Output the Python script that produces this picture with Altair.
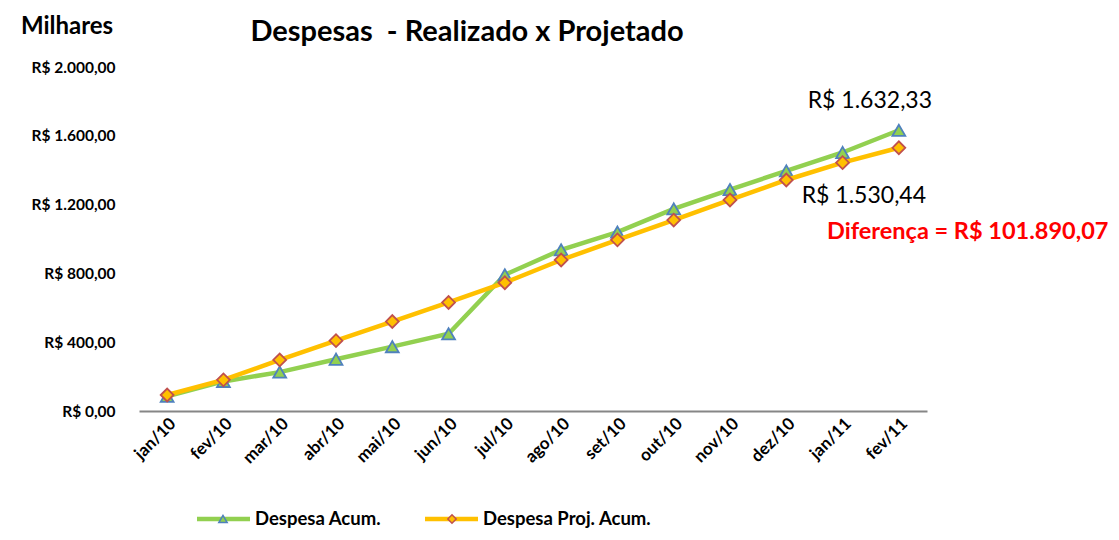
import altair as alt
import pandas as pd

months = ["jan/10", "fev/10", "mar/10", "abr/10", "mai/10", "jun/10", "jul/10",
          "ago/10", "set/10", "out/10", "nov/10", "dez/10", "jan/11", "fev/11"]
realizado = [85, 172, 226, 301, 374, 449, 792, 937, 1040, 1175, 1287, 1396, 1503, 1632.33]
projetado = [93, 181, 297, 409, 520, 631, 746, 878, 995, 1110, 1227, 1343, 1444, 1530.44]
series_names = ["Despesa Acum.", "Despesa Proj. Acum."]
end_labels = ["R$ 1.632,33", "R$ 1.530,44"]
y_ticks = [0, 400, 800, 1200, 1600, 2000]
y_tick_labels = ["R$ 0,00", "R$ 400,00", "R$ 800,00", "R$ 1.200,00", "R$ 1.600,00", "R$ 2.000,00"]
title_text = "Despesas\u00a0 - Realizado x Projetado"
unit_text = "Milhares"
diff_text = "Diferença = R$ 101.890,07"

line_colors = ["#92D050", "#FFC000"]
marker_fill = ["#92D050", "#FFC000"]
marker_stroke = ["#4F81BD", "#C0504D"]
shapes = ["triangle-up", "diamond"]

FONT = "Lato"

rows = []
for m, v in zip(months, realizado):
    rows.append({"mes": m, "valor": v, "serie": series_names[0]})
for m, v in zip(months, projetado):
    rows.append({"mes": m, "valor": v, "serie": series_names[1]})
df = pd.DataFrame(rows)

label_expr = ""
for t, l in zip(y_ticks, y_tick_labels):
    label_expr += f"datum.value == {t} ? '{l}' : "
label_expr += "''"

x_enc = alt.X("mes:N", sort=months,
              scale=alt.Scale(type="point", padding=0.5, domain=months),
              axis=alt.Axis(title=None, labelAngle=315, labelAlign="right",
                            labelBaseline="top", labelFontSize=17,
                            labelFontWeight="bold", labelFont=FONT,
                            labelColor="#000000", labelPadding=4,
                            ticks=False, domainColor="#868686", domainWidth=2))
y_enc = alt.Y("valor:Q",
              scale=alt.Scale(domain=[0, 2000], nice=False),
              axis=alt.Axis(title=None, values=y_ticks, labelExpr=label_expr,
                            labelFontSize=15.5, labelFontWeight="bold",
                            labelFont=FONT, labelColor="#000000",
                            labelPadding=24, ticks=False, domain=False, grid=False))

base = alt.Chart(df)
layers = []
for i, s in enumerate(series_names):
    sub = base.transform_filter(alt.datum.serie == s)
    layers.append(sub.mark_line(strokeWidth=4.5, color=line_colors[i]).encode(x=x_enc, y=y_enc))
    layers.append(sub.mark_point(filled=True, shape=shapes[i], size=165,
                                 fill=marker_fill[i], stroke=marker_stroke[i],
                                 strokeWidth=1.8, opacity=1).encode(x=x_enc, y=y_enc))

# end value labels
end_df = pd.DataFrame({"mes": [months[-1], months[-1]],
                       "valor": [realizado[-1], projetado[-1]],
                       "txt": end_labels})
layers.append(alt.Chart(end_df.iloc[[0]]).mark_text(
    font=FONT, fontSize=23, color="#000000", dx=-29, dy=-29
).encode(x=x_enc, y=y_enc, text="txt:N"))
layers.append(alt.Chart(end_df.iloc[[1]]).mark_text(
    font=FONT, fontSize=23, color="#000000", dx=-35, dy=48
).encode(x=x_enc, y=y_enc, text="txt:N"))

# free text
def txt(text, x, y, size, weight="bold", color="#000000", align="center"):
    return alt.Chart(pd.DataFrame({"t": [text]})).mark_text(
        font=FONT, fontSize=size, fontWeight=weight, color=color, align=align,
        baseline="middle"
    ).encode(x=alt.value(x), y=alt.value(y), text="t:N")

layers.append(txt(title_text, 328, -35, 29))
layers.append(txt(unit_text, -72, -40, 24))
layers.append(txt(diff_text, 688, 165, 23.5, color="#FF0000", align="left"))

# manual legend
leg_y = 452
leg = [(58, 111, 84, 116), (286, 339, 313, 344)]
for i, s in enumerate(series_names):
    x1, x2, xm, xt = leg[i]
    one = alt.Chart(pd.DataFrame({"t": [s]}))
    layers.append(one.mark_rule(strokeWidth=4.5, color=line_colors[i]).encode(
        x=alt.value(x1), x2=alt.value(x2), y=alt.value(leg_y)))
    layers.append(one.mark_point(filled=True, shape=shapes[i], size=70,
                                 fill=marker_fill[i],
                                 stroke=marker_stroke[i], strokeWidth=1.5, opacity=1).encode(
        x=alt.value(xm), y=alt.value(leg_y)))
    layers.append(one.mark_text(font=FONT, fontSize=18.5, fontWeight="bold",
                                color="#000000", align="left", baseline="middle").encode(
        x=alt.value(xt), y=alt.value(leg_y), text="t:N"))

chart = alt.layer(*layers).properties(
    width=788, height=344,
    autosize=alt.AutoSizeParams(type="none"),
    padding={"left": 131, "top": 59, "right": 184, "bottom": 121},
).configure(background="#FFFFFF").configure_view(stroke=None)

chart.save("out.html", embed_options={"renderer": "svg", "actions": False})
